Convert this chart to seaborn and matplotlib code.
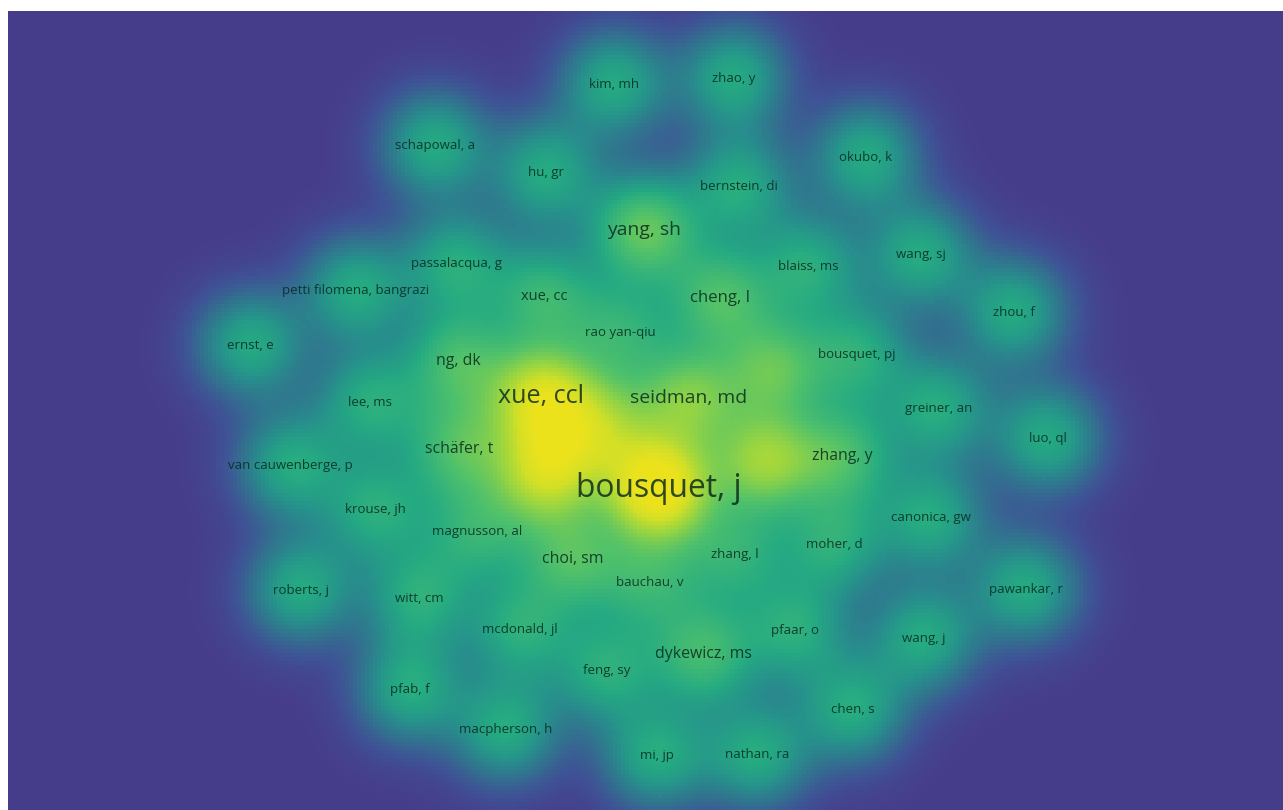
# density map of co-authorship (VOSviewer style) redone with seaborn heatmap
import numpy as np
import matplotlib.pyplot as plt
import seaborn as sns
from matplotlib.colors import LinearSegmentedColormap

# item labels, map position (x, y in map units) and weight
names = ['bousquet, j', 'xue, ccl', 'seidman, md', 'yang, sh', 'cheng, l',
         'ng, dk', 'zhang, y', 'schäfer, t', 'choi, sm', 'dykewicz, ms', 'xue, cc',
         'kim, mh', 'zhao, y', 'schapowal, a', 'hu, gr', 'okubo, k', 'bernstein, di',
         'wang, sj', 'blaiss, ms', 'passalacqua, g', 'petti filomena, bangrazi',
         'zhou, f', 'rao yan-qiu', 'ernst, e', 'bousquet, pj', 'lee, ms', 'greiner, an',
         'luo, ql', 'van cauwenberge, p', 'krouse, jh', 'magnusson, al', 'canonica, gw',
         'moher, d', 'zhang, l', 'bauchau, v', 'roberts, j', 'witt, cm', 'pawankar, r',
         'mcdonald, jl', 'pfaar, o', 'wang, j', 'feng, sy', 'pfab, f', 'chen, s',
         'macpherson, h', 'mi, jp', 'nathan, ra',
         # items whose labels are hidden
         '', '', '', '']
xs = [657, 540, 687, 643, 718, 457, 840, 458, 571, 702, 543,
      613, 732, 434, 545, 864, 737, 919, 806, 455, 355,
      1012, 619, 250, 855, 369, 936, 1045, 290, 375, 476, 929,
      832, 733, 648, 300, 418, 1024, 519, 793, 922, 605, 409, 851,
      505, 655, 755,
      545, 762, 772, 600]
ys = [487, 395, 397, 229, 297, 360, 454, 447, 557, 652, 295,
      84, 78, 145, 172, 157, 186, 254, 266, 263, 289,
      311, 331, 344, 353, 401, 407, 437, 464, 508, 530, 516,
      542, 552, 580, 588, 596, 587, 627, 628, 636, 668, 687, 707,
      727, 753, 752,
      472, 460, 368, 425]
weights = [9, 5, 2.6, 2.6, 1.8, 1.6, 1.6, 1.6, 1.6, 1.6, 1.3,
           1, 1, 1, 1, 1, 1, 1, 1, 1, 1,
           1, 1, 1, 1, 1, 1, 1, 1, 1, 1, 1,
           1, 1, 1, 1, 1, 1, 1, 1, 1, 1, 1, 1,
           1, 1, 1,
           4.5, 3.4, 2, 2.4]

# canvas (map units) and grid
x0, x1, y0, y1 = 8, 1283, 11, 810
step = 4
sigma = 37.0

gx = x0 + step * (np.arange(int((x1 - x0) / step)) + 0.5)
gy = y0 + step * (np.arange(int((y1 - y0) / step)) + 0.5)
GX, GY = np.meshgrid(gx, gy)

dens = np.zeros_like(GX)
for x, y, w in zip(xs, ys, weights):
    dens += np.sqrt(w) * np.exp(-((GX - x) ** 2 + (GY - y) ** 2) / (2 * sigma ** 2))

cmap = LinearSegmentedColormap.from_list('vos', [
    (0.00, '#463d8a'),
    (0.06, '#3f5195'),
    (0.14, '#32718f'),
    (0.24, '#26918b'),
    (0.34, '#25aa82'),
    (0.50, '#4dc06c'),
    (0.68, '#95d443'),
    (0.85, '#d2df27'),
    (1.00, '#ece21c'),
])

fig = plt.figure(figsize=(12.83, 8.10), dpi=100)
fig.patch.set_facecolor('white')
ax = fig.add_axes([x0 / 1283, 0, (x1 - x0) / 1283, (y1 - y0) / 810])
sns.heatmap(dens, ax=ax, cmap=cmap, vmin=0, vmax=3.0, cbar=False,
            xticklabels=False, yticklabels=False, linewidths=0)
ax.set_axis_off()

# labels sized by weight
for n, x, y, w in zip(names, xs, ys, weights):
    if not n:
        continue
    ax.text((x - x0) / step, (y - y0) / step, n, ha='center', va='center',
            fontsize=9.5 * w ** 0.4, family=['Open Sans', 'DejaVu Sans'],
            color='#06261c', alpha=0.82)

fig.savefig('out.png', dpi=100, facecolor='white')
